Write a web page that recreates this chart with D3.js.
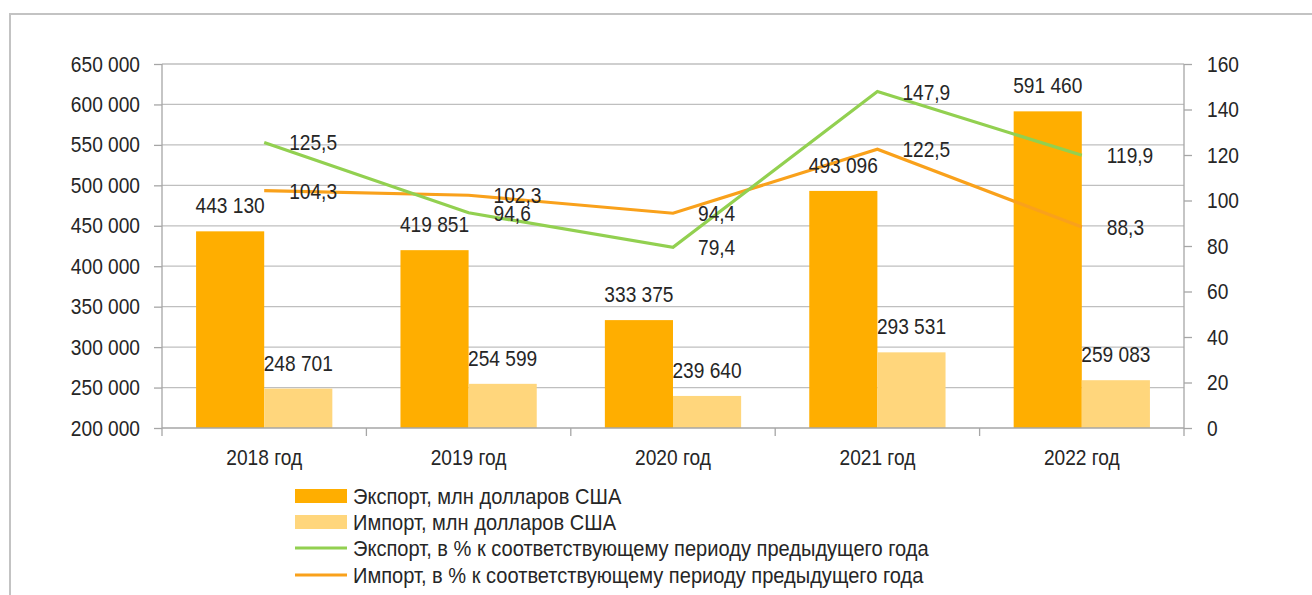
<!DOCTYPE html>
<html><head><meta charset="utf-8">
<script src="https://cdn.jsdelivr.net/npm/d3@7"></script>
<style>
html,body{margin:0;padding:0;background:#fff;overflow:hidden}
svg text{font-family:"Liberation Sans Narrow","Arial Narrow","Liberation Sans",Arial,sans-serif;fill:#262626}
</style></head>
<body>
<svg id="chart" width="1312" height="595"></svg>
<script>
const categories = ["2018 год","2019 год","2020 год","2021 год","2022 год"];
const exportValues = [443130, 419851, 333375, 493096, 591460];
const importValues = [248701, 254599, 239640, 293531, 259083];
const exportPct = [125.5, 94.6, 79.4, 147.9, 119.9];
const importPct = [104.3, 102.3, 94.4, 122.5, 88.3];
const leftTicks = [200000,250000,300000,350000,400000,450000,500000,550000,600000,650000];
const rightTicks = [0,20,40,60,80,100,120,140,160];
const legendLabels = ["Экспорт, млн долларов США","Импорт, млн долларов США","Экспорт, в % к соответствующему периоду предыдущего года","Импорт, в % к соответствующему периоду предыдущего года"];

const C = {exp:"#FFAE00", imp:"#FFD67C", gExp:"#92D050", gImp:"#F9A11B", grid:"#BFBFBF", axis:"#A6A6A6"};
const fs = 22, SX = 0.87;
const svg = d3.select("#chart");
const L = 162, R = 1184, T = 64, B = 428;

// condense text horizontally around its anchor point
function condense(sel, sx){
  sel.each(function(){
    const t = d3.select(this);
    const ax = +t.attr("x") || 0, ay = +t.attr("y") || 0;
    t.attr("transform",`translate(${ax},${ay}) scale(${sx},1) translate(${-ax},${-ay})`);
  });
}

// frame
svg.append("rect").attr("x",10).attr("y",14).attr("width",1320).attr("height",600)
  .attr("fill","none").attr("stroke","#C3C3C3").attr("stroke-width",2);

const x = d3.scaleBand().domain(categories).range([L,R]).paddingInner(1/3).paddingOuter(1/6);
const xc = d3.scaleBand().domain(categories).range([L,R]);
const yL = d3.scaleLinear().domain([200000,650000]).range([B,T]);
const yR = d3.scaleLinear().domain([0,160]).range([B,T]);
const fmt = v => d3.format(",")(v).replace(/,/g," ");
const fmtP = v => d3.format(".1f")(v).replace(".",",");

// grid
svg.append("g").selectAll("line").data(leftTicks.slice(1)).join("line")
  .attr("x1",L).attr("x2",R).attr("y1",d=>yL(d)).attr("y2",d=>yL(d))
  .attr("stroke",C.grid).attr("stroke-width",1.3);

// bars
const bw = x.bandwidth()/2;
svg.append("g").selectAll("rect").data(categories).join("rect")
  .attr("x",d=>x(d)).attr("width",bw)
  .attr("y",(d,i)=>yL(exportValues[i])).attr("height",(d,i)=>B-yL(exportValues[i]))
  .attr("fill",C.exp);
svg.append("g").selectAll("rect").data(categories).join("rect")
  .attr("x",d=>x(d)+bw).attr("width",bw)
  .attr("y",(d,i)=>yL(importValues[i])).attr("height",(d,i)=>B-yL(importValues[i]))
  .attr("fill",C.imp);

// axes
const axL = svg.append("g").attr("transform",`translate(${L},0)`)
  .call(d3.axisLeft(yL).tickValues(leftTicks).tickFormat(fmt).tickSize(8).tickPadding(14));
const axR = svg.append("g").attr("transform",`translate(${R},0)`)
  .call(d3.axisRight(yR).tickValues(rightTicks).tickSize(8).tickPadding(15));
const axB = svg.append("g").attr("transform",`translate(0,${B})`)
  .call(d3.axisBottom(xc).tickSize(0).tickPadding(21));
[axL,axR,axB].forEach(a=>{
  a.selectAll("path.domain").attr("stroke",C.axis).attr("stroke-width",1.3);
  a.selectAll(".tick line").attr("stroke",C.axis).attr("stroke-width",1.3);
  a.selectAll("text").attr("font-size",fs).attr("fill","#262626")
   .attr("font-family",'"Liberation Sans Narrow","Arial Narrow","Liberation Sans",Arial,sans-serif');
  condense(a.selectAll("text"), SX);
});
axL.select("path.domain").attr("d",`M0,${T}V${B+8}`);
axR.select("path.domain").attr("d",`M0,${T}V${B+8}`);
axB.select("path.domain").attr("d",`M${L},0H${R}`);
// category boundary ticks
svg.append("g").selectAll("line").data(categories.slice(1)).join("line")
  .attr("x1",d=>xc(d)).attr("x2",d=>xc(d)).attr("y1",B).attr("y2",B+8)
  .attr("stroke",C.axis).attr("stroke-width",1.3);

// lines
const cx = d => xc(d)+xc.bandwidth()/2;
const line = d3.line().x((v,i)=>cx(categories[i])).y(v=>yR(v));
svg.append("path").attr("d",line(importPct)).attr("fill","none").attr("stroke",C.gImp).attr("stroke-width",3.2);
svg.append("path").attr("d",line(exportPct)).attr("fill","none").attr("stroke",C.gExp).attr("stroke-width",3.2);

// labels
const lab = svg.append("g").attr("font-size",fs);
lab.selectAll("text.e").data(categories).join("text").attr("class","e")
  .attr("x",d=>x(d)+bw/2).attr("y",(d,i)=>yL(exportValues[i])-18)
  .attr("text-anchor","middle").text((d,i)=>fmt(exportValues[i]));
lab.selectAll("text.i").data(categories).join("text").attr("class","i")
  .attr("x",d=>x(d)+bw*1.5).attr("y",(d,i)=>yL(importValues[i])-18)
  .attr("text-anchor","middle").text((d,i)=>fmt(importValues[i]));
lab.selectAll("text.pe").data(categories).join("text").attr("class","pe")
  .attr("x",d=>cx(d)+25).attr("y",(d,i)=>yR(exportPct[i])+8)
  .text((d,i)=>fmtP(exportPct[i]));
lab.selectAll("text.pi").data(categories).join("text").attr("class","pi")
  .attr("x",d=>cx(d)+25).attr("y",(d,i)=>yR(importPct[i])+8)
  .text((d,i)=>fmtP(importPct[i]));
condense(lab.selectAll("text"), SX);

// legend
const lg = svg.append("g");
const rows = [496,522,548,575];
const types = ["rect","rect","line","line"];
const cols = [C.exp,C.imp,C.gExp,C.gImp];
const ltexts = [];
legendLabels.forEach((t,i)=>{
  if(types[i]==="rect"){
    lg.append("rect").attr("x",295).attr("y",rows[i]-7).attr("width",52).attr("height",14).attr("fill",cols[i]);
  } else {
    lg.append("line").attr("x1",295).attr("x2",347).attr("y1",rows[i]).attr("y2",rows[i]).attr("stroke",cols[i]).attr("stroke-width",3.2);
  }
  ltexts.push(lg.append("text").attr("x",353).attr("y",rows[i]+8).attr("font-size",fs).text(t));
});
// fit longest legend line to its width in the reference (~576px)
const w = ltexts[2].node().getComputedTextLength();
const lsx = Math.min(1, 576 / w);
ltexts.forEach(t=>condense(t, lsx));
</script>
</body></html>
